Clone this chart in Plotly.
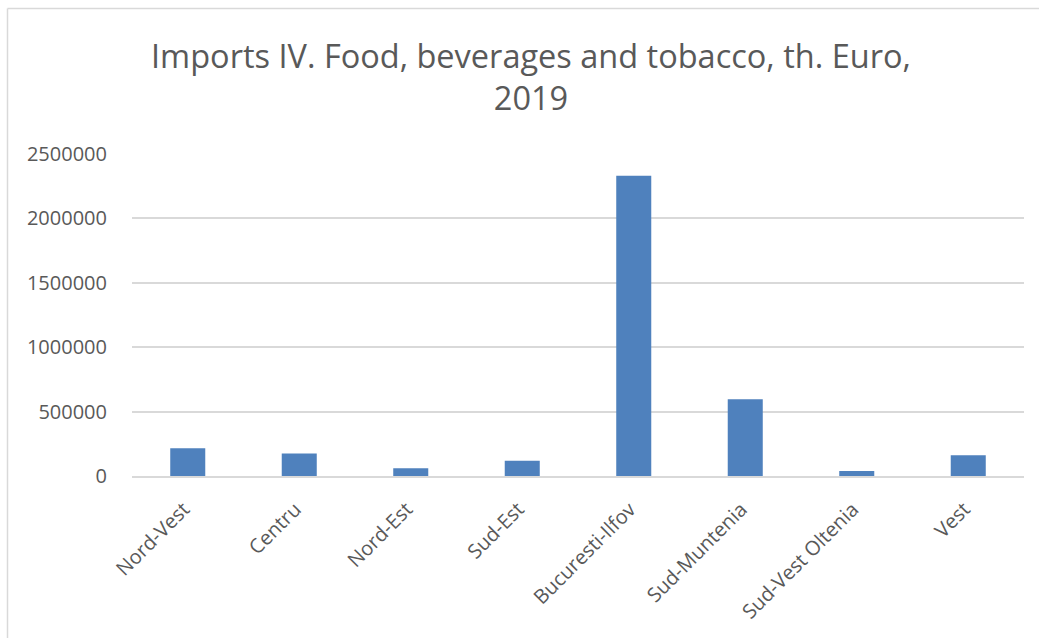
import plotly.graph_objects as go

regions = ["Nord-Vest", "Centru", "Nord-Est", "Sud-Est", "Bucuresti-Ilfov",
           "Sud-Muntenia", "Sud-Vest Oltenia", "Vest"]
imports_2019 = [216000, 175000, 61000, 118000, 2332000, 595000, 39000, 161000]
y_ticks = [0, 500000, 1000000, 1500000, 2000000, 2500000]

text_col = "#595959"
grid_col = "#D9D9D9"

W, H = 1039, 638
L, R, T, B = 132, 15, 154, 162
pw, ph = W - L - R, H - T - B

fig = go.Figure()
fig.add_trace(go.Bar(x=regions, y=imports_2019, marker=dict(color="#4F81BD", line=dict(width=0))))

fig.update_layout(
    width=W, height=H,
    margin=dict(l=L, r=R, t=T, b=B),
    paper_bgcolor="white", plot_bgcolor="white",
    font=dict(family="Open Sans", color=text_col, size=20),
    bargap=0.686,
    showlegend=False,
    title=dict(
        text="Imports IV. Food, beverages and tobacco, th. Euro,<br>2019",
        x=531 / W, xref="container", xanchor="center",
        y=1 - 68 / H, yref="container", yanchor="top",
        font=dict(family="Open Sans", size=32.5, color=text_col),
    ),
    # chart area border (only top and left edges visible)
    shapes=[
        dict(type="line", xref="paper", yref="paper",
             x0=(7.5 - L) / pw, x1=1.2, y0=(H - 8.5 - B) / ph, y1=(H - 8.5 - B) / ph,
             line=dict(color=grid_col, width=1.5)),
        dict(type="line", xref="paper", yref="paper",
             x0=(7.5 - L) / pw, x1=(7.5 - L) / pw, y0=(H - 8.5 - B) / ph, y1=-1,
             line=dict(color=grid_col, width=1.5)),
    ],
)
fig.update_xaxes(tickangle=-45, showgrid=False, showline=True, linecolor=grid_col,
                 linewidth=1.5, ticks="", ticklabelstandoff=12, ticklabelshift=-4,
                 tickfont=dict(size=20, color=text_col))
fig.update_yaxes(range=[0, 2500000], tickvals=y_ticks, ticktext=[str(v) for v in y_ticks],
                 showgrid=True, gridcolor=grid_col, gridwidth=1.5, zeroline=False,
                 ticklabelstandoff=24, tickfont=dict(size=20, color=text_col))

# drop the default body margin so the figure fills the window exactly
fig.write_html("out.html", config={"displayModeBar": False},
               post_script="document.body.style.margin='0';document.body.style.overflow='hidden';")
